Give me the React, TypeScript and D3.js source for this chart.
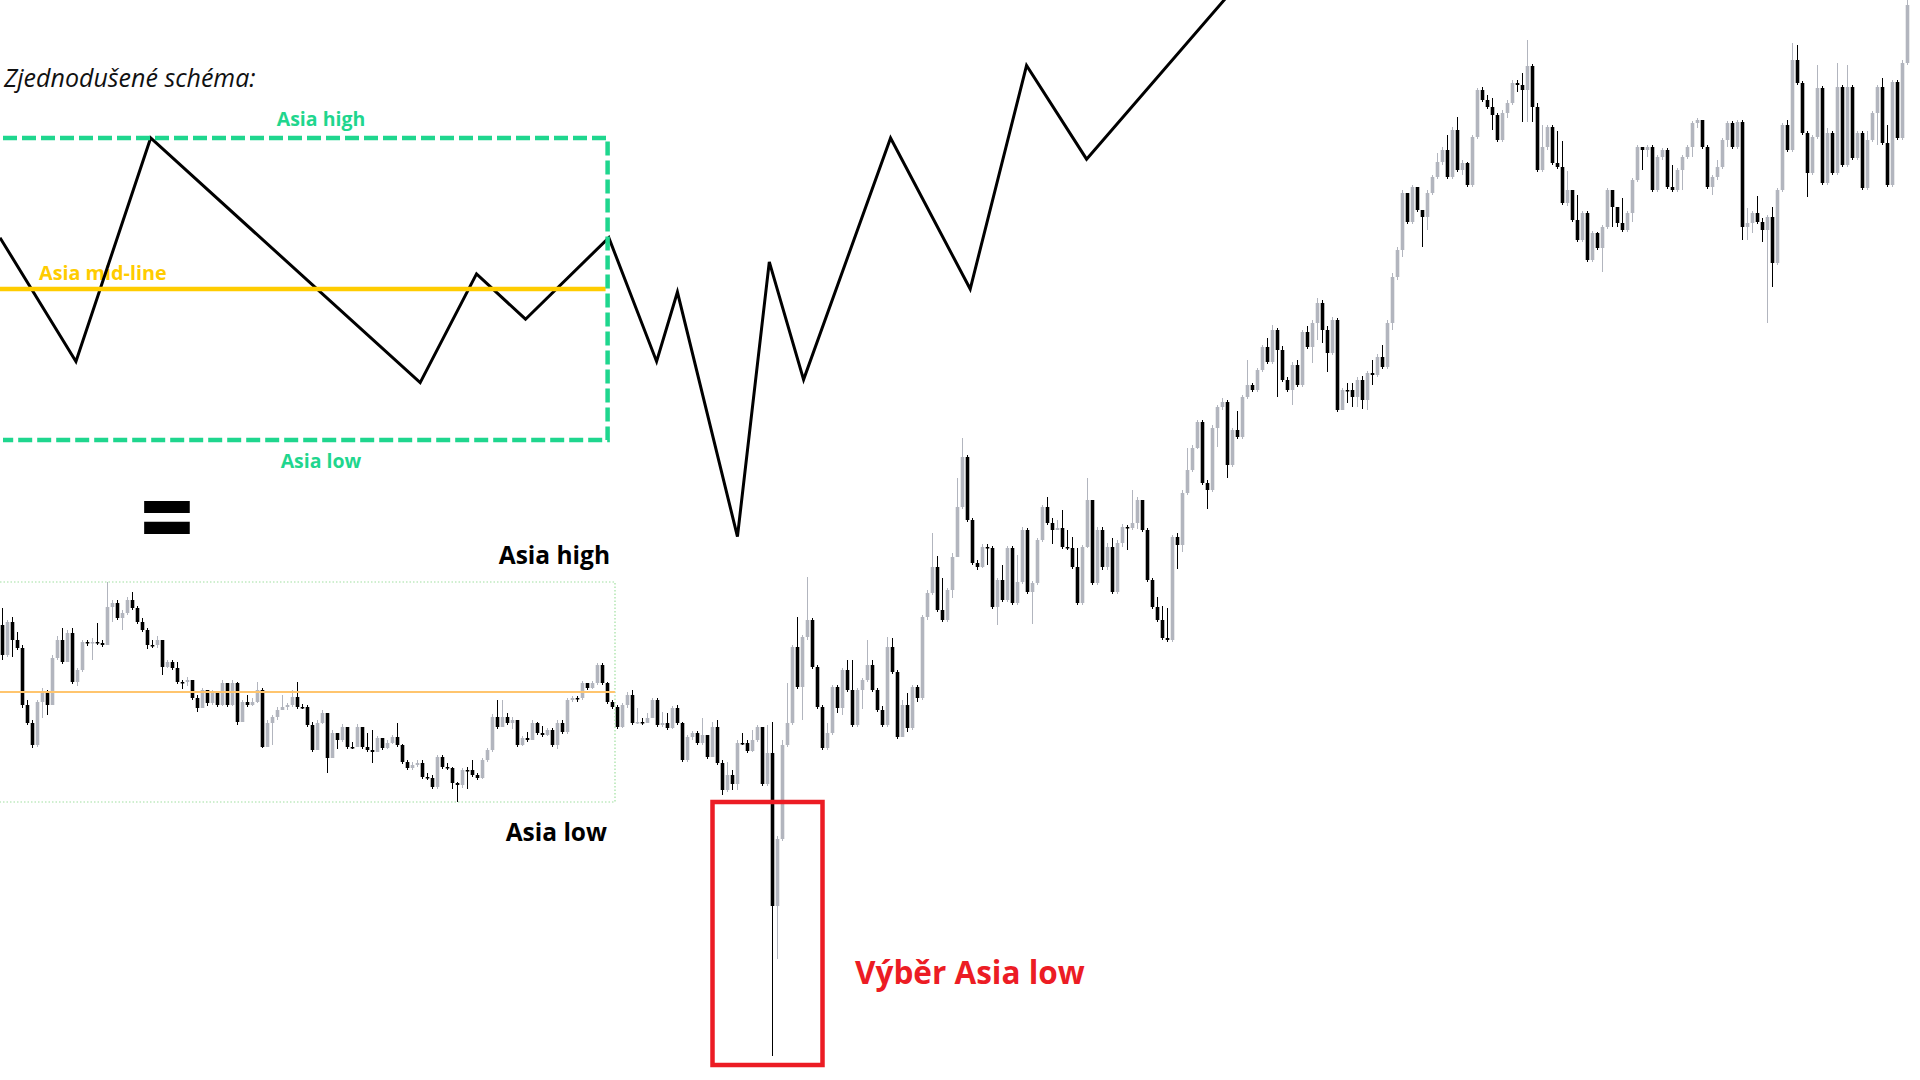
import React from 'react';
import * as d3 from 'd3';

// ---- Candlestick data (price units, higher = up). Open = previous close. ----
const open0 = 475;

const closeA = [
  445, 478, 460, 452, 395, 377, 355, 398, 408, 395,
  442, 460, 438, 467, 418, 430, 458, 457, 458, 457,
  455, 493, 497, 482, 487, 500, 492, 478, 470, 455,
  455, 460, 433, 438, 432, 418, 418, 420, 402, 392,
  410, 397, 407, 395, 417, 395, 417, 378, 398, 395,
  398, 410, 353, 377, 383, 390, 393, 395, 403, 393,
  393, 375, 350, 377,
];
const highA = [
  492, 480, 483, 468, 455, 400, 380, 400, 412, 410,
  445, 464, 472, 470, 472, 432, 460, 460, 462, 477,
  460, 518, 500, 500, 490, 503, 508, 494, 482, 472,
  460, 464, 460, 440, 440, 438, 420, 423, 420, 405,
  412, 410, 410, 408, 420, 417, 420, 418, 400, 405,
  402, 418, 412, 380, 385, 393, 405, 397, 410, 418,
  396, 395, 378, 380,
];
const lowA = [
  440, 443, 443, 450, 392, 375, 352, 353, 382, 385,
  395, 440, 436, 438, 416, 414, 428, 454, 440, 455,
  453, 455, 478, 480, 470, 485, 490, 476, 468, 451,
  452, 452, 425, 432, 430, 416, 411, 414, 400, 388,
  392, 394, 395, 393, 394, 393, 394, 375, 378, 393,
  394, 397, 352, 353, 355, 380, 391, 390, 393, 391,
  391, 373, 348, 350,
];

const closeB = [
  387, 342, 367, 360, 373, 353, 353, 373, 353, 350,
  348, 362, 352, 357, 363, 355, 338, 332, 335, 337,
  323, 322, 313, 343, 333, 332, 317, 315, 330, 330,
  325, 322, 340, 350, 383, 373, 383, 377, 380, 355,
  362, 360, 377, 367, 365, 370, 355, 377, 368, 400,
  402, 402, 417, 412, 417, 435, 417, 398, 393, 373,
  395, 405, 377, 378,
];
const highB = [
  390, 380, 370, 362, 376, 373, 358, 376, 373, 367,
  370, 364, 360, 360, 365, 377, 356, 340, 338, 340,
  340, 327, 325, 345, 345, 337, 333, 318, 332, 333,
  340, 327, 342, 352, 386, 400, 400, 387, 383, 380,
  364, 368, 380, 378, 374, 372, 372, 380, 380, 402,
  404, 404, 419, 417, 419, 437, 437, 418, 400, 395,
  397, 408, 410, 392,
];
const lowB = [
  376, 327, 342, 351, 358, 351, 351, 353, 351, 348,
  337, 348, 350, 351, 356, 353, 336, 330, 330, 333,
  321, 320, 311, 311, 331, 330, 311, 298, 312, 311,
  323, 320, 321, 338, 348, 371, 373, 375, 371, 353,
  354, 358, 360, 365, 363, 364, 353, 351, 366, 366,
  398, 398, 400, 410, 411, 415, 415, 396, 391, 371,
  372, 392, 375, 376,
];

const closeC = [
  377, 382, 400, 375, 377, 372, 392, 377, 340, 363,
  367, 357, 365, 343, 373, 337, 310, 325, 316, 357,
  357, 349, 360, 373, 316, 347, 194, 261, 355, 377,
  453, 413, 463, 480, 433, 393, 352, 367, 413, 392,
  430, 410, 375, 410, 420, 435, 410, 390, 375, 453,
  428, 363, 395, 372, 413, 402, 483, 507, 533, 490,
  480, 510, 543, 593,
];
const highC = [
  382, 387, 402, 402, 388, 387, 394, 395, 378, 365,
  369, 369, 382, 365, 378, 380, 340, 338, 330, 360,
  367, 360, 370, 375, 373, 375, 378, 264, 360, 417,
  455, 483, 465, 523, 482, 435, 395, 377, 415, 415,
  432, 440, 440, 412, 422, 460, 440, 412, 394, 463,
  462, 430, 400, 407, 415, 415, 485, 510, 567, 544,
  522, 512, 547, 622,
];
const lowC = [
  375, 378, 382, 373, 373, 370, 371, 375, 338, 338,
  360, 355, 355, 341, 343, 335, 305, 308, 310, 310,
  355, 347, 348, 358, 314, 314, 44, 141, 259, 353,
  375, 411, 380, 460, 431, 391, 350, 350, 365, 387,
  385, 408, 373, 373, 391, 418, 408, 388, 373, 373,
  426, 361, 363, 368, 370, 398, 400, 480, 505, 488,
  478, 478, 502, 543,
];

const closeD = [
  643, 580, 537, 533, 553, 552, 493, 520, 500, 552,
  497, 518, 570, 508, 517, 560, 593, 577, 570, 572,
  553, 552, 533, 497, 553, 600, 517, 570, 533, 553,
  508, 557, 573, 572, 577, 600, 570, 520, 493, 480,
  462, 460, 563, 555, 607, 630, 652, 678, 617, 610,
  672, 693, 698, 635, 670, 663, 703, 715, 710, 730,
  753, 738, 770, 750,
];
const highD = [
  662, 645, 582, 540, 556, 556, 554, 522, 535, 554,
  554, 545, 573, 572, 519, 562, 595, 603, 582, 580,
  590, 570, 563, 552, 555, 622, 570, 573, 573, 557,
  562, 560, 576, 575, 610, 603, 595, 572, 522, 503,
  494, 492, 565, 567, 610, 652, 655, 680, 680, 620,
  675, 695, 702, 700, 672, 689, 705, 740, 717, 732,
  755, 762, 775, 772,
];
const lowD = [
  591, 578, 535, 530, 532, 535, 491, 475, 498, 498,
  495, 495, 516, 506, 476, 515, 558, 575, 556, 570,
  551, 550, 531, 495, 495, 552, 515, 515, 530, 530,
  506, 506, 553, 550, 570, 571, 568, 518, 491, 478,
  460, 458, 458, 531, 548, 605, 628, 651, 615, 591,
  608, 653, 690, 622, 633, 661, 661, 701, 708, 708,
  728, 736, 736, 703,
];

const closeE = [
  720, 710, 735, 715, 768, 753, 777, 797, 770, 747,
  780, 690, 710, 710, 703, 720, 700, 727, 725, 743,
  733, 777, 823, 850, 907, 878, 913, 890, 883, 907,
  923, 938, 950, 923, 970, 930, 937, 915, 963, 1010,
  1000, 993, 985, 960, 987, 997, 1017, 1015, 1010, 1034,
  993, 930, 953, 973, 937, 933, 897, 910, 880, 860,
  887, 840, 867, 852,
];
const highE = [
  754, 723, 738, 740, 770, 774, 780, 802, 800, 774,
  783, 782, 712, 717, 717, 723, 724, 729, 740, 746,
  755, 780, 827, 853, 910, 907, 915, 913, 890, 910,
  925, 947, 953, 965, 973, 983, 940, 938, 965, 1012,
  1013, 1005, 1002, 987, 990, 1000, 1020, 1020, 1027, 1060,
  1036, 997, 975, 975, 975, 969, 959, 929, 910, 905,
  889, 889, 869, 868,
];
const lowE = [
  718, 708, 695, 713, 713, 751, 737, 760, 757, 728,
  745, 688, 690, 697, 693, 693, 691, 690, 715, 723,
  731, 731, 770, 820, 843, 876, 876, 888, 853, 870,
  905, 921, 935, 921, 921, 928, 925, 913, 913, 961,
  998, 991, 970, 958, 958, 982, 995, 1008, 978, 978,
  978, 928, 928, 950, 935, 931, 895, 894, 878, 858,
  858, 838, 838, 850,
];

const closeF = [
  873, 910, 893, 877, 870, 887, 920, 953, 950, 953,
  910, 943, 950, 913, 910, 930, 943, 953, 977, 980,
  953, 913, 923, 933, 960, 977, 953, 978, 873, 877,
  887, 878, 870, 883, 837, 910, 975, 950, 1040, 1017,
  967, 927, 963, 1012, 917, 967, 927, 1013, 935, 1013,
  942, 967, 912, 960, 987, 1013, 957, 915, 1018, 962,
  1037, 1095,
];
const highF = [
  875, 912, 905, 892, 902, 889, 922, 955, 952, 955,
  955, 945, 952, 952, 935, 932, 945, 955, 979, 982,
  980, 955, 925, 940, 962, 979, 979, 980, 980, 892,
  889, 904, 882, 885, 893, 912, 977, 980, 1057, 1055,
  1019, 969, 965, 1035, 1014, 972, 969, 1037, 1015, 1035,
  1015, 969, 969, 969, 989, 1015, 1022, 975, 1020, 1020,
  1040, 1100,
];
const lowF = [
  828, 871, 873, 873, 868, 868, 878, 918, 930, 943,
  908, 908, 940, 911, 908, 908, 910, 941, 943, 972,
  951, 911, 905, 920, 931, 953, 951, 951, 860, 860,
  867, 876, 858, 777, 813, 835, 908, 948, 948, 1015,
  965, 903, 925, 961, 915, 915, 925, 925, 933, 933,
  940, 940, 910, 910, 958, 955, 955, 913, 913, 960,
  960, 1035,
];

// Asia session = first candles of the chart; sweep box floor price
const asiaCandles = 123;
const sweepStart = 142.5;
const sweepEnd = 164.5;
const sweepFloor = 35;

// ---- Simplified schema (time 0..100, price: Asia low = 0, Asia high = 100) ----
const schemaT = [0, 6.2, 12.3, 34.3, 38.9, 42.9, 49.7, 53.6, 55.3, 60.2, 62.8, 65.6, 72.7, 79.2, 83.8, 88.7, 100];
const schemaP = [67, 26, 100, 19, 55, 40, 67, 26, 49, -32, 59, 20, 100, 50, 124, 93, 146];
const schemaAsiaEnd = 49.6;
const schemaHigh = 100;
const schemaLow = 0;
const schemaMid = 50;

const GREEN = '#1fd68e';
const YELLOW = '#ffcc00';
const GRAY = '#b2b5be';
const RED = '#ec1c24';
const FONT = "'Open Sans', 'Noto Sans', sans-serif";

export default function App() {
  const closes = [...closeA, ...closeB, ...closeC, ...closeD, ...closeE, ...closeF];
  const highs = [...highA, ...highB, ...highC, ...highD, ...highE, ...highF];
  const lows = [...lowA, ...lowB, ...lowC, ...lowD, ...lowE, ...lowF];
  const N = closes.length;

  const xC = d3.scaleLinear().domain([0, N]).range([0, N * 5]);
  const yC = d3.scaleLinear().domain([0, 1100]).range([1100, 0]);

  const candles = closes.map((c, i) => {
    const o = i === 0 ? open0 : closes[i - 1];
    const h = Math.max(highs[i], o, c);
    const l = Math.min(lows[i], o, c);
    return { i, o, c, h, l, up: c > o };
  });

  const asiaHigh = d3.max(highs.slice(0, asiaCandles)) as number;
  const asiaLow = d3.min(lows.slice(0, asiaCandles)) as number;
  const asiaMid = (asiaHigh + asiaLow) / 2;

  const xS = d3.scaleLinear().domain([0, 100]).range([0, 1225]);
  const yS = d3.scaleLinear().domain([0, 100]).range([440, 138]);
  const zig = d3.line<number>().x((_, i) => xS(schemaT[i])).y((d) => yS(d));

  const bw = 3.6;
  const xAsiaEnd = xC(asiaCandles);

  return (
    <svg width={1920} height={1080} style={{ position: 'absolute', left: 0, top: 0, background: '#fff' }}>
      <rect x={0} y={0} width={1920} height={1080} fill="#ffffff" />

      {/* candles */}
      <g>
        {candles.map((d) => {
          const cx = xC(d.i) + 2.5;
          const col = d.up ? GRAY : '#000000';
          const top = yC(Math.max(d.o, d.c));
          const bot = yC(Math.min(d.o, d.c));
          return (
            <g key={d.i}>
              <line x1={cx} x2={cx} y1={yC(d.h)} y2={yC(d.l)} stroke={col} strokeWidth={1} />
              <rect x={cx - bw / 2} y={top} width={bw} height={Math.max(1.5, bot - top)} fill={col} />
            </g>
          );
        })}
      </g>

      {/* Asia session box on candles */}
      <path
        d={`M0,${yC(asiaHigh)}H${xAsiaEnd}V${yC(asiaLow)}H0`}
        fill="none"
        stroke="#9fdf9f"
        strokeWidth={1.2}
        strokeDasharray="1.5 2"
      />
      <line x1={0} x2={xAsiaEnd} y1={yC(asiaMid)} y2={yC(asiaMid)} stroke="#ffc56e" strokeWidth={2} />
      <text x={610} y={564} textAnchor="end" fontFamily={FONT} fontWeight={700} fontSize={24.5} fill="#000">Asia high</text>
      <text x={607} y={841} textAnchor="end" fontFamily={FONT} fontWeight={700} fontSize={24.5} fill="#000">Asia low</text>

      {/* sweep box */}
      <rect
        x={xC(sweepStart)}
        y={yC(asiaLow)}
        width={xC(sweepEnd) - xC(sweepStart)}
        height={yC(sweepFloor) - yC(asiaLow)}
        fill="none"
        stroke={RED}
        strokeWidth={4.5}
      />
      <text x={855} y={984} fontFamily={FONT} fontWeight={700} fontSize={31.5} fill={RED}>Výběr Asia low</text>

      {/* schema */}
      <text x={4} y={87} fontFamily={FONT} fontStyle="italic" fontSize={25} fill="#111">Zjednodušené schéma:</text>
      <text x={321} y={126} textAnchor="middle" fontFamily={FONT} fontWeight={700} fontSize={19.5} fill={GREEN}>Asia high</text>
      <text x={321} y={468} textAnchor="middle" fontFamily={FONT} fontWeight={700} fontSize={19.5} fill={GREEN}>Asia low</text>
      <text x={39} y={280} fontFamily={FONT} fontWeight={700} fontSize={19.8} fill={YELLOW}>Asia mid-line</text>

      <path d={zig(schemaP) || ''} fill="none" stroke="#000" strokeWidth={3} strokeLinejoin="miter" />

      <line x1={0} x2={xS(schemaAsiaEnd) - 2} y1={yS(schemaMid)} y2={yS(schemaMid)} stroke={YELLOW} strokeWidth={4.5} />
      <path
        d={`M3,${yS(schemaHigh)}H${xS(schemaAsiaEnd)}V${yS(schemaLow)}H3`}
        fill="none"
        stroke={GREEN}
        strokeWidth={4.5}
        strokeDasharray="14 5"
      />

      <text x={167} y={550} textAnchor="middle" fontFamily={FONT} fontWeight={800} fontSize={92} fill="#000">=</text>
    </svg>
  );
}
